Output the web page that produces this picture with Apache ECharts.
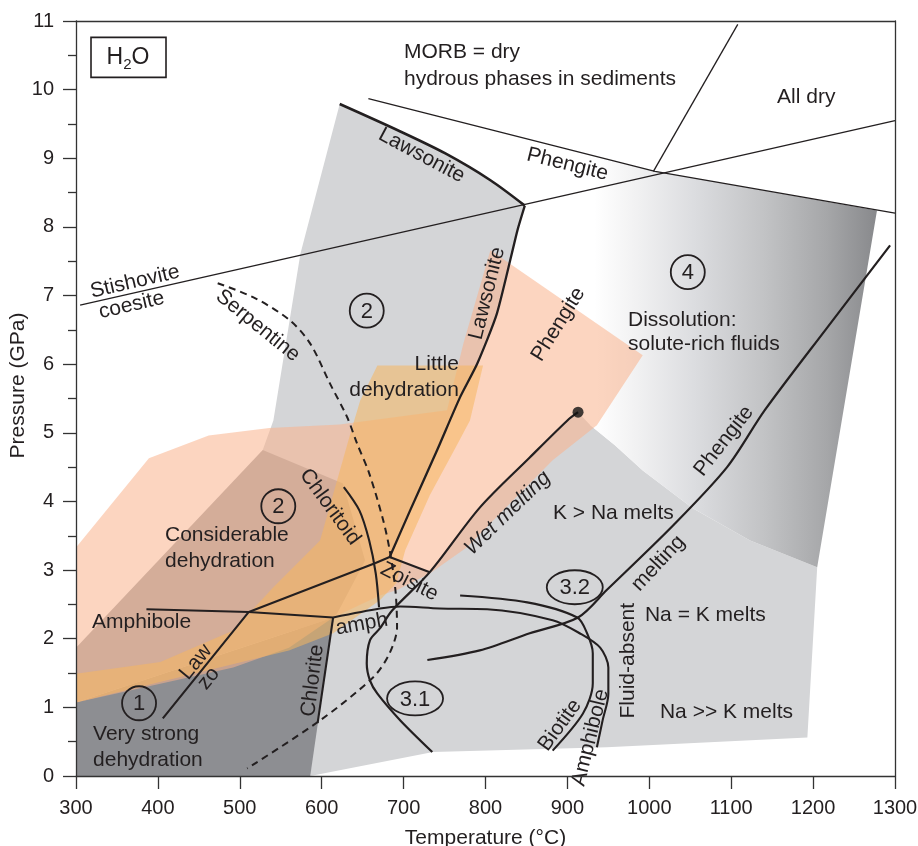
<!DOCTYPE html>
<html><head><meta charset="utf-8">
<script src="https://cdn.jsdelivr.net/npm/echarts/dist/echarts.min.js"></script>
<style>html,body{margin:0;padding:0;background:#fff}#c{width:918px;height:846px}</style>
</head><body><div id="c"></div>
<script>
// ---------- DATA (temperature °C, pressure GPa) ----------
const lightGrayRegion = [[622,9.79],[696,9.39],[751,9.07],[806,8.68],[848,8.31],[839,7.95],[814,6.74],[790,6.01],[769,5.52],[741,4.75],[708,3.87],[683,3.19],[732,2.97],[793,3.91],[854,4.64],[900,5.18],[913,5.30],[928,5.11],[958,4.82],[992,4.45],[1053,3.90],[1123,3.43],[1205,3.04],[1193,0.56],[948,0.42],[736,0.35],[586,0],[574,1.98],[528,4.75],[541,5.18],[574,7.61]];
const mediumGrayRegion = [[300,1.87],[528,4.75],[626,4.26],[653,3.14],[619,2.37],[614,2.31],[300,1.07]];
const darkGrayRegion = [[300,0],[300,1.07],[614,2.31],[586,0]];
const dissolutionRegion = [[873,9.21],[1007,8.81],[1278,8.24],[1205,3.04],[1123,3.43],[1053,3.90],[992,4.45],[958,4.82],[928,5.11],[891,6.93]];
const peachRegion = [[300,1.07],[300,3.33],[389,4.63],[462,4.96],[536,5.07],[622,5.12],[753,5.33],[773,6.30],[806,7.66],[992,6.13],[936,5.11],[882,4.60],[834,4.02],[777,3.33],[732,2.95],[692,2.71],[671,2.63],[614,2.31],[560,1.87],[492,1.58]];
const orangeRegion = [[300,1.49],[403,1.66],[492,2.12],[541,2.75],[598,3.43],[635,4.99],[647,5.47],[668,5.98],[797,5.98],[781,5.18],[765,4.82],[732,4.09],[702,3.29],[691,2.81],[671,2.56],[614,2.08],[560,1.83],[300,1.07]];

const stishoviteCoesite = [[305,6.86],[1300,9.55]];
const phengiteUpper = [[657,9.87],[1007,8.81],[1300,8.20]];
const morbAllDry = [[1108,10.95],[1005,8.81]];
const lawsoniteTop = [[622,9.79],[696,9.39],[751,9.07],[806,8.68],[848,8.31]];
const lawsoniteSteep = [[848,8.31],[839,7.95],[814,6.74],[790,6.01],[769,5.52],[741,4.75],[708,3.87],[683,3.19]];
const zoisiteEdge = [[665,3.10],[683,3.19],[732,2.97]];
const lawZo = [[406,0.84],[511,2.39],[665,3.10]];
const amphiboleLow = [[386,2.43],[511,2.39],[614,2.31]];
const amphiboleCurve = [[614,2.31],[671,2.44],[696,2.47],[744,2.44],[802,2.43],[882,2.27],[915,2.08],[940,1.87],[950,1.58],[950,1.20],[943,0.81],[936,0.42]];
const biotite = [[769,2.63],[851,2.53],[912,2.31],[924,2.08],[931,1.79],[931,1.35],[919,0.91],[882,0.37]];
const chloritoid = [[627,4.21],[646,3.87],[658,3.43],[666,2.95],[670,2.46]];
const chlorite = [[614,2.31],[595,0.77]];
const wetSolidus = [[913,5.30],[900,5.18],[854,4.64],[793,3.91],[732,2.97],[686,2.41],[671,2.15],[659,1.98],[655,1.64],[659,1.39],[668,1.20],[696,0.81],[735,0.35]];
const serpentine = [[473,7.18],[519,6.96],[561,6.64],[586,6.30],[610,5.72],[631,5.23],[643,4.85],[658,4.41],[675,3.73],[683,3.29],[690,2.71],[692,2.17],[683,1.79],[663,1.44],[598,0.81],[509,0.11]];
const phengiteMelting = [[729,1.69],[793,1.83],[854,2.08],[913,2.31],[948,2.71],[1029,3.65],[1095,4.50],[1141,5.33],[1217,6.53],[1294,7.73]];
const wetSolidusEnd = [[913,5.30]];

// [text, T, P, rotation deg, align, italic]
const labels = [
 ['MORB = dry', 700.5, 10.54, 0, 'left'],
 ['hydrous phases in sediments', 700.5, 10.15, 0, 'left'],
 ['All dry', 1156, 9.89, 0, 'left'],
 ['Phengite', 900, 8.91, -14, 'center'],
 ['Lawsonite', 722, 9.04, -28, 'center'],
 ['Stishovite', 372, 7.20, 13, 'center'],
 ['coesite', 368, 6.86, 13, 'center'],
 ['Serpentine', 522, 6.56, -39, 'center'],
 ['Little', 767.6, 6.00, 0, 'right'],
 ['dehydration', 767.6, 5.62, 0, 'right'],
 ['Lawsonite', 802, 7.03, 76, 'center'],
 ['Phengite', 889, 6.58, 58, 'center'],
 ['Dissolution:', 974, 6.64, 0, 'left'],
 ['solute-rich fluids', 974, 6.29, 0, 'left'],
 ['Chloritoid', 610, 3.92, -54, 'center'],
 ['Considerable', 408.7, 3.51, 0, 'left'],
 ['dehydration', 408.7, 3.13, 0, 'left'],
 ['Amphibole', 319.5, 2.24, 0, 'left'],
 ['Law', 446.5, 1.66, 51, 'center'],
 ['zo', 462, 1.42, 51, 'center'],
 ['Very strong', 320.8, 0.61, 0, 'left'],
 ['dehydration', 320.8, 0.23, 0, 'left'],
 ['Chlorite', 589, 1.39, 83, 'center'],
 ['amph', 649, 2.21, 10, 'center'],
 ['Zoisite', 707, 2.83, -27, 'center'],
 ['Wet melting', 827, 3.83, 44, 'center', true],
 ['K > Na melts', 882.4, 3.83, 0, 'left'],
 ['melting', 1011, 3.10, 47, 'center'],
 ['Phengite', 1091, 4.88, 52, 'center'],
 ['Fluid-absent', 974, 1.68, 90, 'center'],
 ['Na = K melts', 994.7, 2.34, 0, 'left'],
 ['Na >> K melts', 1013, 0.93, 0, 'left'],
 ['Biotite', 891, 0.74, 54, 'center'],
 ['Amphibole', 928, 0.56, 76, 'center']
];
const circledNumbers = [['2', 655, 6.78], ['4', 1047, 7.34], ['2', 547, 3.93], ['1', 377, 1.06]];
const ovalNumbers = [['3.2', 909, 2.75], ['3.1', 714, 1.13]];
const boxLabel = [['H2O', 363.5, 10.47]];

// ---------- RENDER ----------
const FONT = '"Liberation Sans", Arial, Helvetica, sans-serif';
const INK = '#231f20';
const chart = echarts.init(document.getElementById('c'), null, {renderer: 'canvas'});

function regionSeries(name, pts, fillFn) {
  return {
    type: 'custom', name: name, silent: true, clip: true, animation: false,
    encode: {x: 0, y: 1}, data: pts,
    renderItem: function (params, api) {
      if (params.dataIndex !== 0) return;
      return {type: 'polygon', shape: {points: pts.map(function (p) { return api.coord(p); })},
              style: {fill: fillFn(api), stroke: null}};
    }
  };
}
function lineSeries(name, pts, width, opts) {
  opts = opts || {};
  return {
    type: 'line', name: name, data: pts, showSymbol: false, symbol: 'none', silent: true,
    animation: false, smooth: opts.smooth || false, z: 4,
    lineStyle: {color: INK, width: width, type: opts.dash ? [7, 5] : 'solid', cap: 'butt', join: 'round'}
  };
}

const series = [
  regionSeries('light', lightGrayRegion, function () { return '#d4d5d7'; }),
  regionSeries('medium', mediumGrayRegion, function () { return '#a6a6a9'; }),
  regionSeries('dark', darkGrayRegion, function () { return '#8d8e92'; }),
  regionSeries('dissolution', dissolutionRegion, function (api) {
    const a = api.coord([933, 6]), b = api.coord([1278, 6]);
    return new echarts.graphic.LinearGradient(a[0], 0, b[0], 0, [
      {offset: 0, color: '#ffffff'}, {offset: 0.15, color: '#f1f1f2'}, {offset: 0.35, color: '#dcdde0'},
      {offset: 0.6, color: '#c2c3c5'}, {offset: 0.82, color: '#a6a7a9'}, {offset: 1, color: '#88898c'}], true);
  }),
  regionSeries('peach', peachRegion, function () { return 'rgba(250,178,140,0.55)'; }),
  regionSeries('orange', orangeRegion, function () { return 'rgba(246,182,95,0.55)'; }),

  lineSeries('stishovite', stishoviteCoesite, 1.3),
  lineSeries('phengiteUpper', phengiteUpper, 1.3),
  lineSeries('morb', morbAllDry, 1.3),
  lineSeries('lawsoniteTop', lawsoniteTop, 2.6, {smooth: 0.3}),
  lineSeries('lawsoniteSteep', lawsoniteSteep, 2.3, {smooth: 0.2}),
  lineSeries('zoisite', zoisiteEdge, 2.1),
  lineSeries('lawZo', lawZo, 2.1),
  lineSeries('amphLow', amphiboleLow, 2.1),
  lineSeries('amphCurve', amphiboleCurve, 2.1, {smooth: 0.3}),
  lineSeries('biotite', biotite, 2.1, {smooth: 0.3}),
  lineSeries('chloritoid', chloritoid, 2.1, {smooth: 0.3}),
  lineSeries('chlorite', chlorite, 2.1),
  lineSeries('wet', wetSolidus, 2.2, {smooth: 0.3}),
  lineSeries('serpentine', serpentine, 2.0, {smooth: 0.3, dash: true}),
  lineSeries('phengiteMelt', phengiteMelting, 2.2, {smooth: 0.3}),
  {type: 'scatter', data: wetSolidusEnd, symbolSize: 11, itemStyle: {color: '#111'}, silent: true, z: 5, animation: false},

  {type: 'custom', name: 'labels', clip: false, silent: true, animation: false, z: 6,
   encode: {x: 0, y: 1}, data: labels.map(function (l) { return [l[1], l[2]]; }),
   renderItem: function (params, api) {
     const L = labels[params.dataIndex];
     const p = api.coord([L[1], L[2]]);
     return {type: 'text', x: p[0], y: p[1], rotation: L[3] * Math.PI / 180,
             style: {text: L[0], fill: INK, fontSize: 21, fontFamily: FONT, fontStyle: L[5] ? 'italic' : 'normal',
                     align: L[4], verticalAlign: 'middle'}};
   }},
  {type: 'custom', name: 'circles', clip: false, silent: true, animation: false, z: 6,
   encode: {x: 0, y: 1}, data: circledNumbers.map(function (l) { return [l[1], l[2]]; }),
   renderItem: function (params, api) {
     const L = circledNumbers[params.dataIndex];
     const p = api.coord([L[1], L[2]]);
     return {type: 'group', children: [
       {type: 'circle', shape: {cx: p[0], cy: p[1], r: 17}, style: {fill: 'none', stroke: INK, lineWidth: 1.8}},
       {type: 'text', x: p[0], y: p[1] + 1, style: {text: L[0], fill: INK, fontSize: 22, fontFamily: FONT, align: 'center', verticalAlign: 'middle'}}
     ]};
   }},
  {type: 'custom', name: 'ovals', clip: false, silent: true, animation: false, z: 6,
   encode: {x: 0, y: 1}, data: ovalNumbers.map(function (l) { return [l[1], l[2]]; }),
   renderItem: function (params, api) {
     const L = ovalNumbers[params.dataIndex];
     const p = api.coord([L[1], L[2]]);
     return {type: 'group', children: [
       {type: 'ellipse', shape: {cx: p[0], cy: p[1], rx: 28, ry: 17}, style: {fill: 'none', stroke: INK, lineWidth: 1.8}},
       {type: 'text', x: p[0], y: p[1] + 1, style: {text: L[0], fill: INK, fontSize: 22, fontFamily: FONT, align: 'center', verticalAlign: 'middle'}}
     ]};
   }},
  {type: 'custom', name: 'box', clip: false, silent: true, animation: false, z: 6,
   encode: {x: 0, y: 1}, data: boxLabel.map(function (l) { return [l[1], l[2]]; }),
   renderItem: function (params, api) {
     const p = api.coord([boxLabel[0][1], boxLabel[0][2]]);
     return {type: 'group', children: [
       {type: 'rect', shape: {x: p[0] - 37, y: p[1] - 20, width: 75, height: 40}, style: {fill: '#fff', stroke: INK, lineWidth: 1.6}},
       {type: 'text', x: p[0], y: p[1], style: {text: '{a|H}{b|2}{a|O}', align: 'center', verticalAlign: 'middle', fill: INK,
         rich: {a: {fontSize: 23, fontFamily: FONT, lineHeight: 30, fill: INK},
                b: {fontSize: 15, fontFamily: FONT, lineHeight: 30, verticalAlign: 'bottom', fill: INK}}}}
     ]};
   }}
];

const axisLineStyle = {color: '#333', width: 1.3};
const plain = function (v) { return String(v); };
const option = {
  animation: false,
  backgroundColor: '#fff',
  grid: {left: 76, right: 23, top: 21, bottom: 70, containLabel: false, outerBoundsMode: 'none'},
  xAxis: [
    {type: 'value', min: 300, max: 1300, interval: 100, position: 'bottom', z: 10,
     axisLine: {show: true, onZero: false, lineStyle: axisLineStyle},
     axisTick: {show: true, length: 13, lineStyle: axisLineStyle},
     axisLabel: {fontSize: 20, color: INK, fontFamily: FONT, margin: 22, formatter: plain, showMinLabel: true, showMaxLabel: true},
     splitLine: {show: false},
     name: 'Temperature (°C)', nameLocation: 'middle', nameGap: 52, nameMoveOverlap: false,
     nameTextStyle: {fontSize: 21, color: INK, fontFamily: FONT}},
    {type: 'value', min: 300, max: 1300, position: 'top', z: 10,
     axisLine: {show: true, onZero: false, lineStyle: axisLineStyle},
     axisTick: {show: false}, axisLabel: {show: false}, splitLine: {show: false}}
  ],
  yAxis: [
    {type: 'value', min: 0, max: 11, interval: 1, position: 'left', z: 10,
     axisLine: {show: true, onZero: false, lineStyle: axisLineStyle},
     axisTick: {show: true, length: 13, lineStyle: axisLineStyle},
     minorTick: {show: true, splitNumber: 2, length: 8, lineStyle: axisLineStyle},
     axisLabel: {fontSize: 20, color: INK, fontFamily: FONT, margin: 22, formatter: plain},
     splitLine: {show: false}, minorSplitLine: {show: false},
     name: 'Pressure (GPa)', nameLocation: 'middle', nameGap: 47, nameRotate: 90, nameMoveOverlap: false,
     nameTextStyle: {fontSize: 21, color: INK, fontFamily: FONT, padding: [0, 0, 0, 26]}},
    {type: 'value', min: 0, max: 11, position: 'right', z: 10,
     axisLine: {show: true, onZero: false, lineStyle: axisLineStyle},
     axisTick: {show: false}, axisLabel: {show: false}, splitLine: {show: false}}
  ],
  series: series
};
chart.setOption(option);
</script>
</body></html>
